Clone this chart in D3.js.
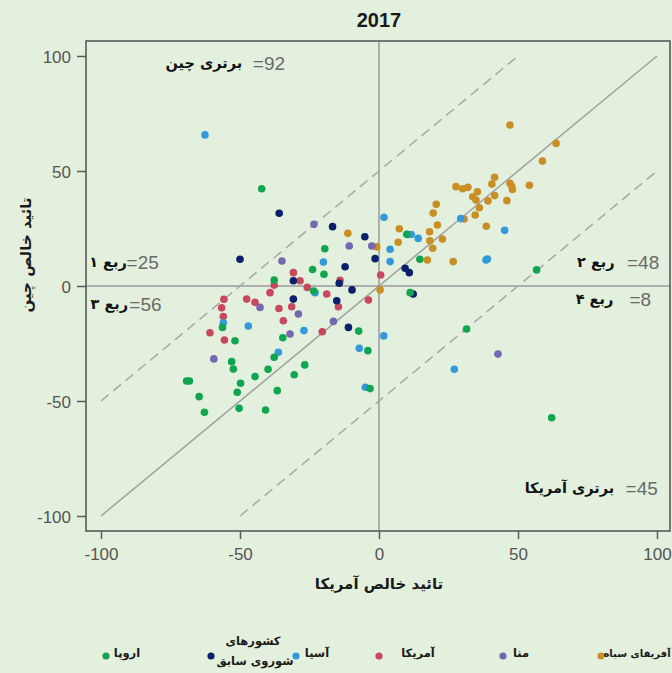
<!DOCTYPE html>
<html>
<head>
<meta charset="utf-8">
<script src="https://cdn.jsdelivr.net/npm/d3@7"></script>
<style>
  html, body { margin: 0; padding: 0; background: #e2f0dd; }
  svg { display: block; }
</style>
</head>
<body>
<div id="chart"></div>
<script>
// ---------- DATA (net approval of US = x, net approval of China = y) ----------
const title = "2017";
const xTicks = [-100, -50, 0, 50, 100];
const yTicks = [-100, -50, 0, 50, 100];
const xTitle = "تائید خالص آمریکا";
const yTitle = "تائید خالص چین";

const africa = [
  [47.1,70],[63.7,62],[58.8,54.3],[27.7,43.2],[30.1,42.3],[32.0,42.9],[35.4,41],[41.6,47.3],
  [40.6,44.3],[47.1,44.7],[47.7,43.5],[48.0,42],[54.1,43.8],[33.7,38.8],[34.9,37.4],[39.2,37],
  [41.6,39.3],[46.0,37.1],[36.1,34],[34.6,30.9],[30.6,29.1],[38.6,26],[20.6,35.5],[19.5,31.7],
  [21.0,26.5],[7.3,24.9],[18.2,23.6],[22.8,20.4],[18.3,19.7],[6.9,19],[19.3,16.4],[-0.8,17],
  [17.4,11.3],[26.7,10.6],[0.4,-1.7],[-11.2,22.9]
];
const mena = [
  [-34.9,10.9],[-23.4,26.8],[-10.7,17.4],[-2.6,17.4],[-42.8,-9.3],[-29,-12.2],[-32,-20.9],
  [-16.4,-15.4],[-59.4,-31.7],[42.8,-29.6]
];
const americas = [
  [-30.8,5.8],[-37.7,0.4],[-39.2,-2.9],[-55.8,-5.8],[-47.6,-5.7],[-44.6,-7.1],[-56.6,-9.5],
  [-36,-9.8],[-31.4,-9.0],[-28.4,2.3],[-25.8,-0.6],[-18.8,-3.5],[-14,2.5],[0.6,4.8],[-3.8,-6.1],
  [-14.6,-9],[-56,-13.3],[-60.8,-20.3],[-55.6,-23.5],[-34.4,-15.1],[-20.4,-19.9]
];
const asia = [
  [-62.6,65.7],[1.8,29.9],[4,16],[4,10.6],[10.4,22.4],[11.6,22.4],[14.1,20.7],[29.4,29.3],
  [45.2,24.2],[38.5,11.3],[39,11.7],[-20,10.4],[-23,-2.9],[-56,-16],[-47,-17.4],[-27,-19.4],
  [-36.2,-28.8],[-7.1,-27.1],[1.7,-21.7],[-4.9,-44],[27.1,-36.2]
];
const formerSoviet = [
  [-35.9,31.6],[-50,11.6],[-30.8,2.3],[-30.8,-5.7],[-16.7,25.8],[-5.1,21.4],[-12.2,8.4],
  [-1.4,11.9],[-9.7,-1.7],[-14.3,1.2],[-15.2,-6.4],[-11,-18],[9.4,7.7],[10.9,5.8],[12.3,-3.5]
];
const europe = [
  [-42.2,42.3],[-19.5,16.2],[-23.9,7.2],[-19.8,5.1],[-23.5,-2.2],[-37.7,2.6],[-56.3,-18],
  [-51.8,-23.8],[-53,-32.9],[-52.4,-36.1],[-69.2,-41.3],[-68.2,-41.3],[-49.8,-42.3],[-44.6,-39.4],
  [-39.9,-36.2],[-37.7,-31],[-34.6,-22.5],[-51,-46.2],[-64.7,-48.1],[-62.8,-54.9],[-50.3,-53.2],
  [-40.8,-53.9],[-36.6,-45.5],[-30.5,-38.6],[-7.3,-19.6],[-4,-28.1],[-26.7,-34.3],[-3.2,-44.6],
  [14.7,11.6],[56.7,7],[10,22.5],[11.2,-2.9],[31.5,-18.7],[62.1,-57.3]
];

const regionNames = ["آفریقای سیاه", "منا", "آمریکا", "آسیا", "کشورهای|شوروی سابق", "اروپا"];
const regionColors = ["#c98f25", "#7567b0", "#c8485e", "#3399db", "#0b1f6b", "#12a550"];
const regionData = [africa, mena, americas, asia, formerSoviet, europe];

// annotation labels and counts
const annLabels = ["برتری چین", "ربع ۱", "ربع ۲", "ربع ۳", "ربع ۴", "برتری آمریکا"];
const annCounts = ["=92", "=25", "=48", "=56", "=8", "=45"];

// ---------- DRAWING ----------
const W = 672, H = 673;
const svg = d3.select("#chart").append("svg").attr("width", W).attr("height", H);
svg.append("rect").attr("width", W).attr("height", H).attr("fill", "#e2f0dd");

const x = d3.scaleLinear().domain([-100, 100]).range([101, 657]);
const y = d3.scaleLinear().domain([-100, 100]).range([516, 56]);
const frame = {left: 86, right: 670, top: 41, bottom: 531};

const numFont = "'Liberation Sans Narrow', 'Arial Narrow', 'Liberation Sans', Arial, sans-serif";
const faFont = "'DejaVu Sans', 'Noto Sans', sans-serif";

// title
svg.append("text").attr("x", x(0)).attr("y", 27).attr("text-anchor", "middle")
  .attr("font-family", "'Liberation Sans', Arial, sans-serif").attr("font-weight", "bold")
  .attr("font-size", 20).attr("fill", "#1a1a1a").text(title);

const plot = svg.append("g");

// zero lines
plot.append("line").attr("x1", x(0)).attr("x2", x(0)).attr("y1", frame.top).attr("y2", frame.bottom)
  .attr("stroke", "#9a9a9a").attr("stroke-width", 1.5);
plot.append("line").attr("x1", frame.left).attr("x2", frame.right).attr("y1", y(0)).attr("y2", y(0))
  .attr("stroke", "#9a9a9a").attr("stroke-width", 1.5);

// diagonal and offset lines
plot.append("line").attr("x1", x(-100)).attr("y1", y(-100)).attr("x2", x(100)).attr("y2", y(100))
  .attr("stroke", "#a0a0a0").attr("stroke-width", 1.5);
plot.append("line").attr("x1", x(-100)).attr("y1", y(-50)).attr("x2", x(50)).attr("y2", y(100))
  .attr("stroke", "#a8a8a8").attr("stroke-width", 1.5).attr("stroke-dasharray", "10,6");
plot.append("line").attr("x1", x(-50)).attr("y1", y(-100)).attr("x2", x(100)).attr("y2", y(50))
  .attr("stroke", "#a8a8a8").attr("stroke-width", 1.5).attr("stroke-dasharray", "10,6");

// frame
svg.append("rect").attr("x", frame.left).attr("y", frame.top)
  .attr("width", frame.right - frame.left).attr("height", frame.bottom - frame.top)
  .attr("fill", "none").attr("stroke", "#5a5a5a").attr("stroke-width", 1.6);

// axes
const fmt = d => String(d);
const xAxis = d3.axisBottom(x).tickValues(xTicks).tickSize(8).tickPadding(6).tickFormat(fmt);
const gx = svg.append("g").attr("transform", `translate(0,${frame.bottom})`).call(xAxis);
gx.select(".domain").remove();
const yAxis = d3.axisLeft(y).tickValues(yTicks).tickSize(9).tickPadding(6).tickFormat(fmt);
const gy = svg.append("g").attr("transform", `translate(${frame.left},0)`).call(yAxis);
gy.select(".domain").remove();
[gx, gy].forEach(g => {
  g.selectAll(".tick line").attr("stroke", "#5a5a5a").attr("stroke-width", 1.5);
  g.selectAll(".tick text").attr("font-family", numFont).attr("font-size", 17).attr("fill", "#555");
});
gx.selectAll(".tick text").attr("dy", "0.9em");
gy.selectAll(".tick text").attr("dy", "0.36em");

// axis titles
svg.append("text").attr("x", x(0)).attr("y", 589).attr("text-anchor", "middle")
  .attr("direction", "rtl")
  .attr("font-family", faFont).attr("font-weight", "bold").attr("font-size", 15)
  .attr("fill", "#1a1a1a").text(xTitle);
svg.append("text").attr("transform", `translate(31,${y(13.5)}) rotate(-90)`).attr("text-anchor", "middle")
  .attr("direction", "rtl")
  .attr("font-family", faFont).attr("font-weight", "bold").attr("font-size", 15)
  .attr("fill", "#1a1a1a").text(yTitle);

// points
regionData.forEach((arr, i) => {
  plot.append("g").selectAll("circle").data(arr).join("circle")
    .attr("cx", d => x(d[0])).attr("cy", d => y(d[1])).attr("r", 3.8)
    .attr("fill", regionColors[i]);
});

// annotations: positions in data space (label centre x, count centre x, baseline y)
const annPos = [
  [-63, -39.6, 95], [-97.5, -85, 8.2], [78, 95, 8.2], [-97, -84, -10], [77.5, 94, -8], [68.5, 94.5, -90]
];
annLabels.forEach((lab, i) => {
  const p = annPos[i];
  svg.append("text").attr("x", x(p[0])).attr("y", y(p[2])).attr("text-anchor", "middle")
    .attr("direction", "rtl")
    .attr("font-family", faFont).attr("font-weight", "bold").attr("font-size", 14.5)
    .attr("fill", "#111").text(lab);
  svg.append("text").attr("x", x(p[1])).attr("y", y(p[2]) + 2).attr("text-anchor", "middle")
    .attr("font-family", numFont).attr("font-size", 19)
    .attr("fill", "#6a6a6a").text(annCounts[i]);
});

// legend: dot x and text centre x
const legDotX = [601, 503, 379, 296, 211, 106];
const legTextX = [637, 521, 418, 317, 253, 127];
const legY = 656;
regionNames.forEach((name, i) => {
  const g = svg.append("g");
  g.append("circle").attr("cx", legDotX[i]).attr("cy", legY).attr("r", 3.6).attr("fill", regionColors[i]);
  const parts = name.split("|");
  const lines = parts.length === 1 ? [[name, legY + 1]] : [[parts[0], legY - 11], [parts[1], legY + 9]];
  lines.forEach(([t, ty], k) => {
    g.append("text").attr("x", legTextX[i] + (parts.length > 1 && k === 1 ? 2 : 0)).attr("y", ty)
      .attr("text-anchor", "middle").attr("direction", "rtl")
      .attr("font-family", faFont).attr("font-weight", "bold").attr("font-size", i === 0 ? 10 : 11.5)
      .attr("fill", "#1a1a1a").text(t);
  });
});
</script>
</body>
</html>
